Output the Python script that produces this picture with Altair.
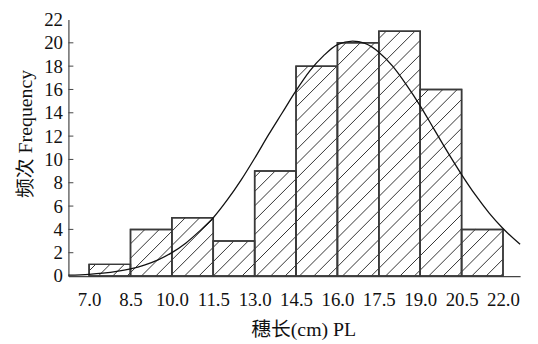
import altair as alt
import pandas as pd
import numpy as np

# ---- data ----
bin_left = [7.0, 8.5, 10.0, 11.5, 13.0, 14.5, 16.0, 17.5, 19.0, 20.5]
bin_right = [8.5, 10.0, 11.5, 13.0, 14.5, 16.0, 17.5, 19.0, 20.5, 22.0]
freq = [1, 4, 5, 3, 9, 18, 20, 21, 16, 4]

curve_x = [6.25, 7.0, 7.5, 8.0, 8.5, 9.0, 9.5, 10.0, 10.5, 11.0, 11.5, 12.0, 12.5,
           13.0, 13.5, 14.0, 14.5, 15.0, 15.5, 16.0, 16.55, 17.0, 17.5, 18.0, 18.5,
           19.0, 19.5, 20.0, 20.5, 21.0, 21.5, 22.0, 22.62]
curve_y = [0.07, 0.15, 0.25, 0.40, 0.62, 0.94, 1.39, 2.01, 2.82, 3.85, 5.0, 6.5, 8.2,
           10.1, 12.1, 14.0, 15.9, 17.6, 18.9, 19.85, 20.15, 19.95, 19.2, 18.0, 16.4,
           14.6, 12.6, 10.6, 8.7, 6.95, 5.4, 4.08, 2.72]

x_ticks = [7.0, 8.5, 10.0, 11.5, 13.0, 14.5, 16.0, 17.5, 19.0, 20.5, 22.0]
y_ticks = [0, 2, 4, 6, 8, 10, 12, 14, 16, 18, 20, 22]

x_title = "穗长(cm) PL"
y_title = "频次 Frequency"

# ---- layout ----
XMIN, XMAX = 6.25, 22.62
YMIN, YMAX = 0, 22
W, H = 456, 259
FONT = "Liberation Serif, Times New Roman, Noto Sans CJK SC"

bars = pd.DataFrame({"x0": bin_left, "x1": bin_right, "f": freq})
curve = pd.DataFrame({"cx": curve_x, "cy": curve_y})

# hatch lines derived from the bar rectangles ("/" at 45 degrees on screen)
sx = W / (XMAX - XMIN)
sy = H / (YMAX - YMIN)
step = 14.5
phase = 13.7
segs = []
for a, b, h in zip(bin_left, bin_right, freq):
    X0, X1 = (a - XMIN) * sx, (b - XMIN) * sx
    Yt, Yb = (YMAX - h) * sy, H
    kmin = int(np.floor((X0 + Yt - phase) / step)) - 1
    kmax = int(np.ceil((X1 + Yb - phase) / step)) + 1
    for k in range(kmin, kmax + 1):
        c = phase + k * step
        ps = max(X0, c - Yb)
        pe = min(X1, c - Yt)
        if pe - ps > 0.5:
            segs.append({
                "hx": ps / sx + XMIN, "hy": YMAX - (c - ps) / sy,
                "hx2": pe / sx + XMIN, "hy2": YMAX - (c - pe) / sy,
            })
hatch = pd.DataFrame(segs)
yt = pd.DataFrame({"t": y_ticks[:-1]})

xscale = alt.Scale(domain=[XMIN, XMAX], nice=False, zero=False)
yscale = alt.Scale(domain=[YMIN, YMAX], nice=False)
xaxis = alt.Axis(values=x_ticks, format=".1f", ticks=False, grid=False,
                 labelPadding=15, titlePadding=10, titleX=237,
                 domainColor="#444", domainWidth=1.2)
yaxis = alt.Axis(values=y_ticks, ticks=False, grid=False, labelPadding=6,
                 titlePadding=8, titleY=115, domainColor="#444", domainWidth=1.2)


def X(f):
    return alt.X(f, type="quantitative", scale=xscale, axis=xaxis, title=x_title)


def Y(f):
    return alt.Y(f, type="quantitative", scale=yscale, axis=yaxis, title=y_title)


rect_layer = alt.Chart(bars).mark_rect(fill="white", stroke="#3a3a3a", strokeWidth=1.5).encode(
    x=X("x0"), x2="x1", y=Y("f"), y2=alt.datum(0)
)
hatch_layer = alt.Chart(hatch).mark_rule(color="#333", strokeWidth=1).encode(
    x=X("hx"), y=Y("hy"), x2="hx2", y2="hy2"
)
outline_layer = alt.Chart(bars).mark_rect(fill="white", fillOpacity=0, stroke="#3a3a3a",
                                          strokeWidth=1.5).encode(
    x=X("x0"), x2="x1", y=Y("f"), y2=alt.datum(0)
)
curve_layer = alt.Chart(curve).mark_line(color="#111", strokeWidth=1.3, interpolate="monotone").encode(
    x=X("cx"), y=Y("cy")
)
tick_layer = alt.Chart(yt).mark_rule(color="#444", strokeWidth=1).encode(
    x=alt.value(0), x2=alt.value(5), y=Y("t")
)

chart = alt.layer(rect_layer, hatch_layer, outline_layer, curve_layer, tick_layer).properties(
    width=W, height=H,
    autosize=alt.AutoSizeParams(type="none"),
    padding={"left": 61, "top": 10, "right": 10, "bottom": 66},
).configure_view(stroke=None).configure_axis(
    labelFont=FONT, titleFont=FONT, labelFontSize=19, titleFontSize=20,
    labelColor="#111", titleColor="#111", titleFontWeight="normal",
)

chart.save("out.html", embed_options={"renderer": "svg", "actions": False})
